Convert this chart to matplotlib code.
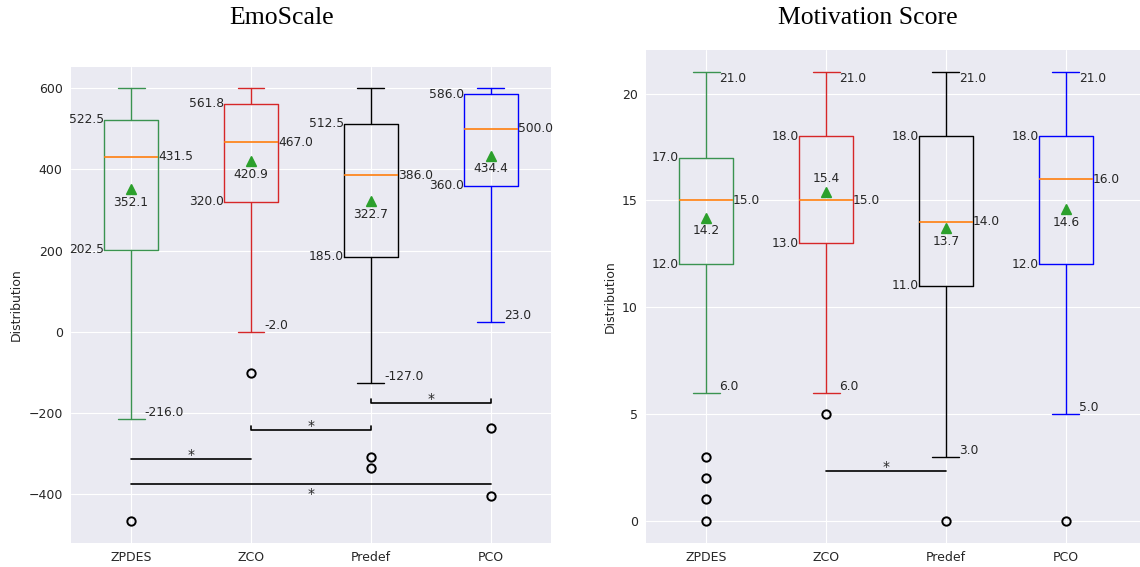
import matplotlib
matplotlib.use("Agg")
import matplotlib.pyplot as plt

groups = ["ZPDES", "ZCO", "Predef", "PCO"]
colors = ["#3a9350", "#d62728", "black", "blue"]

# EmoScale box stats
emo_q1 = [202.5, 320.0, 185.0, 360.0]
emo_med = [431.5, 467.0, 386.0, 500.0]
emo_q3 = [522.5, 561.8, 512.5, 586.0]
emo_mean = [352.1, 420.9, 322.7, 434.4]
emo_lo = [-216.0, -2.0, -127.0, 23.0]
emo_hi = [600.0, 600.0, 600.0, 600.0]
emo_fliers = [[-468], [-101], [-309, -336], [-238, -406]]
# significance bars: (group a, group b, level, with end ticks, star below)
emo_sig = [("ZPDES", "ZCO", -313, False, False),
           ("ZCO", "Predef", -243, True, False),
           ("Predef", "PCO", -175, True, False),
           ("ZPDES", "PCO", -375, False, True)]

# Motivation score box stats
mot_q1 = [12.0, 13.0, 11.0, 12.0]
mot_med = [15.0, 15.0, 14.0, 16.0]
mot_q3 = [17.0, 18.0, 18.0, 18.0]
mot_mean = [14.2, 15.4, 13.7, 14.6]
mot_lo = [6.0, 6.0, 3.0, 5.0]
mot_hi = [21.0, 21.0, 21.0, 21.0]
mot_fliers = [[0, 1, 2, 3], [5], [0], [0]]
mot_sig = [("ZCO", "Predef", 2.33, False, False)]


def make_stats(q1, med, q3, mean, lo, hi, fliers):
    stats = []
    for i in range(len(groups)):
        stats.append(dict(label=groups[i], q1=q1[i], med=med[i], q3=q3[i],
                          mean=mean[i], whislo=lo[i], whishi=hi[i],
                          fliers=fliers[i]))
    return stats


def draw_panel(ax, stats, sig, show_top, tick_h):
    pos = list(range(1, len(stats) + 1))
    w = 0.45
    parts = ax.bxp(stats, positions=pos, widths=w, showmeans=True,
                   meanprops=dict(marker="^", markerfacecolor="#2ca02c",
                                  markeredgecolor="#2ca02c", markersize=7),
                   medianprops=dict(color="#ff7f0e", linewidth=1.2),
                   flierprops=dict(marker="o", markerfacecolor="none",
                                   markeredgecolor="black", markersize=6,
                                   markeredgewidth=1.4))
    for i, c in enumerate(colors):
        parts["boxes"][i].set_color(c)
        for k in (2 * i, 2 * i + 1):
            parts["whiskers"][k].set_color(c)
            parts["caps"][k].set_color(c)

    fs = 8.8
    for p, s in zip(pos, stats):
        ax.text(p - w / 2, s["q1"], "%.1f" % s["q1"], ha="right", va="center", fontsize=fs)
        ax.text(p - w / 2, s["q3"], "%.1f" % s["q3"], ha="right", va="center", fontsize=fs)
        ax.text(p + w / 2, s["med"], "%.1f" % s["med"], ha="left", va="center", fontsize=fs)
        ax.text(p + w / 4, s["whislo"], "%.1f" % s["whislo"], ha="left", va="bottom", fontsize=fs)
        if show_top:
            ax.text(p + w / 4, s["whishi"], "%.1f" % s["whishi"], ha="left", va="top", fontsize=fs)
        if s["mean"] > s["med"]:
            ax.annotate("%.1f" % s["mean"], (p, s["mean"]), xytext=(0, 5),
                        textcoords="offset points", ha="center", va="bottom", fontsize=fs)
        else:
            ax.annotate("%.1f" % s["mean"], (p, s["mean"]), xytext=(0, -5),
                        textcoords="offset points", ha="center", va="top", fontsize=fs)

    for a, b, y, ticks, below in sig:
        x1 = groups.index(a) + 1
        x2 = groups.index(b) + 1
        if ticks:
            ax.plot([x1, x1, x2, x2], [y + tick_h, y, y, y + tick_h], color="black", lw=1.2)
        else:
            ax.plot([x1, x2], [y, y], color="black", lw=1.2)
        if below:
            ax.annotate("*", ((x1 + x2) / 2, y), xytext=(0, -10), textcoords="offset points",
                        ha="center", va="baseline", fontsize=10)
        else:
            ax.annotate("*", ((x1 + x2) / 2, y), xytext=(0, 0), textcoords="offset points",
                        ha="center", va="baseline", fontsize=10)

    ax.set_xticks(pos)
    ax.set_xticklabels(groups)
    ax.set_ylabel("Distribution", fontsize=9)
    ax.tick_params(labelsize=9, pad=6)


plt.style.use("seaborn-v0_8-darkgrid")
plt.rcParams["font.family"] = "DejaVu Sans"

fig = plt.figure(figsize=(11.4, 5.67), dpi=100)
ax1 = fig.add_axes([0.0623, 0.0423, 0.421, 0.840])
ax2 = fig.add_axes([0.5667, 0.0423, 0.4333, 0.8695])

draw_panel(ax1, make_stats(emo_q1, emo_med, emo_q3, emo_mean, emo_lo, emo_hi, emo_fliers),
           emo_sig, False, 10)
draw_panel(ax2, make_stats(mot_q1, mot_med, mot_q3, mot_mean, mot_lo, mot_hi, mot_fliers),
           mot_sig, True, 0.4)

ax1.set_xlim(0.5, 4.5)
ax2.set_xlim(0.5, 4.617)
ax1.set_yticks([-400, -200, 0, 200, 400, 600])
ax2.set_yticks([0, 5, 10, 15, 20])

fig.text(0.2474, 0.968, "EmoScale", ha="center", va="center",
         fontsize=18.5, family="Liberation Serif", color="black")
fig.text(0.761, 0.968, "Motivation Score", ha="center", va="center",
         fontsize=18.5, family="Liberation Serif", color="black")

fig.savefig("out.png", dpi=100)
